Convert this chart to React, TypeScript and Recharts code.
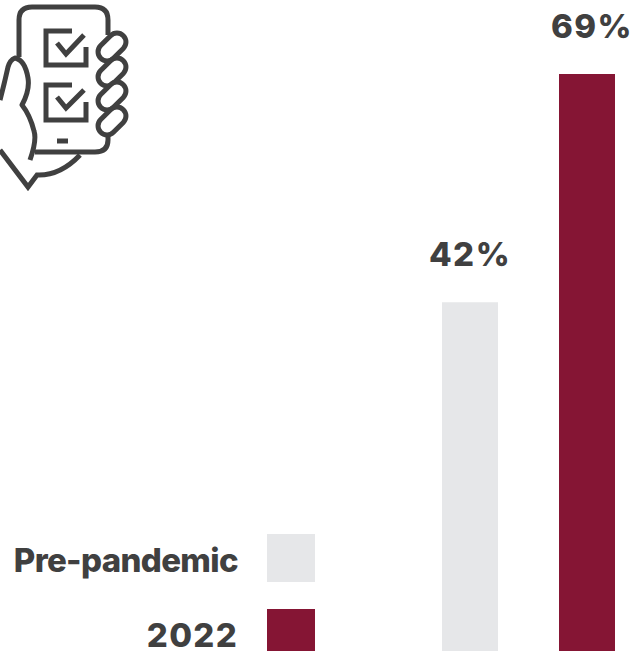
import { BarChart, Bar, XAxis, YAxis, LabelList, Legend } from "recharts";

const categories = ["Share"];
const prePandemicValues = [42];
const latestValues = [69];

const TEXT_COLOR = "#404040";
const FONT = "Inter, sans-serif";

const chartData = categories.map((name, i) => ({
  name,
  prePandemic: prePandemicValues[i],
  latest: latestValues[i],
}));

// Phone-in-hand pictogram with two ticked boxes
function PhoneIcon() {
  const fingers = [47, 72, 96, 121];
  return (
    <svg
      width={140}
      height={195}
      style={{ position: "absolute", left: 0, top: 0 }}
      fill="none"
      stroke={TEXT_COLOR}
      strokeWidth={5}
      strokeLinejoin="round"
    >
      <path d="M19 57V20Q19 7 32 7H95Q108 7 108 20V35" />
      <path d="M108 133V140Q108 152 95 152H35" />
      <path d="M72 31H46V65H86V47" strokeLinejoin="miter" />
      <path d="M57 43L66 54L84 35" strokeLinejoin="miter" />
      <path d="M72 85H46V120H86V102" strokeLinejoin="miter" />
      <path d="M57 97L66 108L84 90" strokeLinejoin="miter" />
      <path d="M57 141H68" />
      {fingers.map((cy) => (
        <rect
          key={cy}
          x={96}
          y={cy - 9}
          width={32}
          height={18}
          rx={9}
          transform={`rotate(-45 112 ${cy})`}
          fill="#fff"
        />
      ))}
      <path d="M30 160Q37 140 34 131Q30 115 22 105Q30 90 28 78Q25 60 15 58Q10 60 8 67Q4 85 0 100" />
      <path d="M0 150L28 187L37 175Q60 176 80 155" strokeLinejoin="miter" />
    </svg>
  );
}

function SwatchLegend({ payload }: any) {
  return (
    <div>
      {(payload || []).map((entry: any) => (
        <div
          key={entry.value}
          style={{
            display: "flex",
            justifyContent: "flex-end",
            alignItems: "center",
            height: 48,
            marginBottom: 27,
          }}
        >
          <span
            style={{
              fontFamily: FONT,
              fontWeight: 800,
              fontSize: 33,
              lineHeight: "28px",
              letterSpacing: /^\d+$/.test(entry.value) ? 1.3 : -0.65,
              color: TEXT_COLOR,
              marginRight: 29,
              whiteSpace: "nowrap",
              position: "relative",
              top: 2,
            }}
          >
            {entry.value}
          </span>
          <span
            style={{
              display: "block",
              width: 48,
              height: 48,
              background: entry.color,
            }}
          />
        </div>
      ))}
    </div>
  );
}

export default function App() {
  const labelStyle = {
    fontFamily: FONT,
    fontWeight: 800,
    fontSize: 33,
    letterSpacing: 1.5,
    fill: TEXT_COLOR,
  };

  return (
    <div
      style={{
        position: "absolute",
        left: 0,
        top: 0,
        width: 637,
        height: 651,
        overflow: "hidden",
        background: "#fff",
      }}
    >
      <BarChart
        width={637}
        height={660}
        data={chartData}
        margin={{ top: 74, right: 0, bottom: 3, left: 420 }}
        barSize={56}
        barGap={61}
      >
        <XAxis dataKey="name" hide />
        <YAxis hide domain={[0, 69]} />
        <Legend
          content={<SwatchLegend />}
          layout="vertical"
          verticalAlign="middle"
          align="center"
          itemSorter={null}
          wrapperStyle={{ left: 0, top: 534, width: 315 }}
        />
        <Bar
          dataKey="prePandemic"
          name="Pre-pandemic"
          fill="#e6e7e9"
          isAnimationActive={false}
        >
          <LabelList
            dataKey="prePandemic"
            position="top"
            offset={36}
            formatter={(v: any) => `${v}%`}
            style={labelStyle}
          />
        </Bar>
        <Bar
          dataKey="latest"
          name="2022"
          fill="#851534"
          isAnimationActive={false}
        >
          <LabelList
            dataKey="latest"
            position="top"
            offset={36}
            dx={5}
            formatter={(v: any) => `${v}%`}
            style={labelStyle}
          />
        </Bar>
      </BarChart>
      <PhoneIcon />
    </div>
  );
}
